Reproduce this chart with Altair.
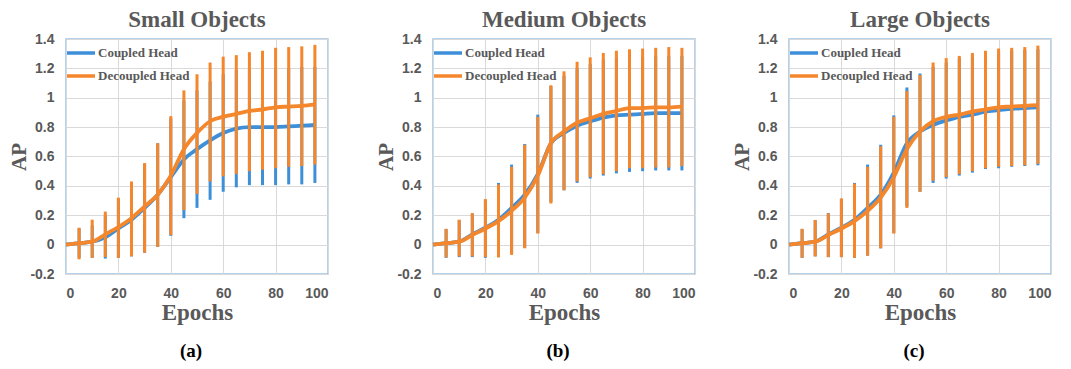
import altair as alt
import pandas as pd

epochs = [0, 5, 10, 15, 20, 25, 30, 35, 40, 45, 50, 55, 60, 65, 70, 75, 80, 85, 90, 95]
series_names = ["Coupled Head", "Decoupled Head"]
panel_titles = ["Small Objects", "Medium Objects", "Large Objects"]
panel_labels = ["(a)", "(b)", "(c)"]
x_ticks = [0, 20, 40, 60, 80, 100]
y_ticks = [-0.2, 0, 0.2, 0.4, 0.6, 0.8, 1, 1.2, 1.4]

# ---- Small objects ----
small_c = [0, 0.01, 0.02, 0.05, 0.11, 0.17, 0.25, 0.34, 0.46, 0.58, 0.65, 0.71, 0.76, 0.79, 0.80, 0.80, 0.80, 0.805, 0.81, 0.815]
small_c_lo = [None, -0.09, -0.09, -0.095, -0.09, -0.08, -0.055, -0.015, 0.06, 0.18, 0.25, 0.305, 0.36, 0.39, 0.405, 0.405, 0.405, 0.41, 0.41, 0.42]
small_c_hi = [None, 0.11, 0.13, 0.20, 0.31, 0.42, 0.55, 0.69, 0.86, 0.98, 1.05, 1.11, 1.16, 1.19, 1.195, 1.195, 1.195, 1.20, 1.21, 1.21]
small_d = [0, 0.01, 0.02, 0.07, 0.12, 0.18, 0.26, 0.34, 0.47, 0.65, 0.76, 0.84, 0.87, 0.89, 0.91, 0.92, 0.935, 0.94, 0.945, 0.955]
small_d_lo = [None, -0.10, -0.09, -0.085, -0.09, -0.08, -0.055, -0.015, 0.065, 0.235, 0.345, 0.43, 0.465, 0.48, 0.50, 0.51, 0.52, 0.53, 0.535, 0.545]
small_d_hi = [None, 0.115, 0.17, 0.225, 0.32, 0.43, 0.555, 0.69, 0.875, 1.05, 1.16, 1.24, 1.28, 1.29, 1.31, 1.32, 1.34, 1.345, 1.35, 1.36]

# ---- Medium objects ----
medium_c = [0, 0.01, 0.02, 0.07, 0.115, 0.17, 0.25, 0.34, 0.48, 0.69, 0.76, 0.81, 0.84, 0.865, 0.88, 0.885, 0.89, 0.895, 0.895, 0.895]
medium_c_lo = [None, -0.09, -0.085, -0.085, -0.09, -0.085, -0.06, -0.02, 0.08, 0.29, 0.37, 0.42, 0.45, 0.47, 0.485, 0.495, 0.50, 0.505, 0.505, 0.505]
medium_c_hi = [None, 0.105, 0.165, 0.21, 0.305, 0.42, 0.545, 0.685, 0.885, 1.08, 1.15, 1.20, 1.23, 1.26, 1.27, 1.275, 1.28, 1.285, 1.285, 1.285]
medium_d = [0, 0.01, 0.02, 0.065, 0.11, 0.16, 0.23, 0.32, 0.47, 0.69, 0.77, 0.83, 0.86, 0.89, 0.91, 0.93, 0.93, 0.935, 0.935, 0.94]
medium_d_lo = [None, -0.087, -0.08, -0.08, -0.085, -0.087, -0.07, -0.025, 0.075, 0.28, 0.37, 0.43, 0.46, 0.48, 0.50, 0.52, 0.52, 0.525, 0.525, 0.535]
medium_d_hi = [None, 0.108, 0.17, 0.215, 0.31, 0.41, 0.53, 0.68, 0.87, 1.085, 1.18, 1.245, 1.275, 1.305, 1.32, 1.33, 1.335, 1.34, 1.345, 1.34]

# ---- Large objects ----
large_c = [0, 0.01, 0.02, 0.07, 0.115, 0.17, 0.25, 0.34, 0.49, 0.69, 0.77, 0.815, 0.845, 0.87, 0.885, 0.905, 0.915, 0.925, 0.93, 0.935]
large_c_lo = [None, -0.09, -0.08, -0.085, -0.085, -0.09, -0.075, -0.025, 0.08, 0.26, 0.36, 0.42, 0.45, 0.47, 0.49, 0.515, 0.52, 0.53, 0.535, 0.54]
large_c_hi = [None, 0.105, 0.165, 0.215, 0.31, 0.42, 0.545, 0.68, 0.88, 1.07, 1.165, 1.21, 1.24, 1.27, 1.28, 1.295, 1.31, 1.32, 1.325, 1.33]
large_d = [0, 0.01, 0.02, 0.065, 0.11, 0.16, 0.23, 0.32, 0.46, 0.65, 0.77, 0.84, 0.87, 0.885, 0.905, 0.92, 0.935, 0.94, 0.945, 0.95]
large_d_lo = [None, -0.09, -0.08, -0.085, -0.085, -0.09, -0.075, -0.025, 0.075, 0.25, 0.36, 0.435, 0.46, 0.48, 0.50, 0.52, 0.53, 0.535, 0.54, 0.55]
large_d_hi = [None, 0.108, 0.168, 0.213, 0.315, 0.415, 0.53, 0.67, 0.87, 1.045, 1.155, 1.24, 1.27, 1.285, 1.305, 1.32, 1.335, 1.34, 1.345, 1.355]

BLUE = "#3D8FD9"
ORANGE = "#F4862C"
GRAY_TEXT = "#595959"
W, H = 262, 235


def make_df(c, c_lo, c_hi, d, d_lo, d_hi):
    rows = []
    for name, m, lo, hi in [(series_names[0], c, c_lo, c_hi), (series_names[1], d, d_lo, d_hi)]:
        for e, v, l, h in zip(epochs, m, lo, hi):
            rows.append({"epoch": e, "ap": v, "lo": l, "hi": h, "series": name})
    return pd.DataFrame(rows)


def panel(title, label, df):
    base = alt.Chart(df)
    xenc = alt.X("epoch:Q", scale=alt.Scale(domain=[0, 100], nice=False),
                 axis=alt.Axis(values=x_ticks, title="Epochs", grid=True, domain=False, ticks=False,
                               labelPadding=12, titlePadding=1))
    yscale = alt.Scale(domain=[-0.2, 1.4], nice=False)
    yaxis = alt.Axis(values=y_ticks, title="AP", grid=True, domain=False, ticks=False, format="~g",
                     labelExpr="replace(datum.label, '\u2212', '-')", labelPadding=12, titlePadding=0,
                     titleFontSize=21)
    color = alt.Color("series:N", scale=alt.Scale(domain=series_names, range=[BLUE, ORANGE]),
                      legend=alt.Legend(orient="none", legendX=-1, legendY=-2, title=None,
                                        symbolType="stroke", symbolSize=784, symbolStrokeWidth=3.5,
                                        labelFont="Liberation Serif", labelFontWeight="bold",
                                        labelFontSize=13, labelColor=GRAY_TEXT, rowPadding=-1,
                                        labelOffset=1, padding=0))
    layers = []
    for name in series_names:
        sub = base.transform_filter(alt.datum.series == name)
        bars = sub.transform_filter("isValid(datum.lo)").mark_rule(strokeWidth=3).encode(
            x=xenc, y=alt.Y("lo:Q", scale=yscale, axis=yaxis), y2="hi:Q", color=color)
        line = sub.mark_line(strokeWidth=3.8, interpolate="monotone").encode(
            x=xenc, y=alt.Y("ap:Q", scale=yscale, axis=yaxis), color=color)
        layers += [bars, line]
    lab = alt.Chart(pd.DataFrame({"t": [label]})).mark_text(
        font="Liberation Serif", fontWeight="bold", fontSize=19, color="black").encode(
        x=alt.value(W / 2 - 6), y=alt.value(H + 77), text="t:N")
    layers.append(lab)
    return alt.layer(*layers).properties(
        width=W, height=H,
        title=alt.TitleParams(title, font="Liberation Serif", fontWeight="bold", fontSize=23,
                              color=GRAY_TEXT, offset=0, anchor="middle"))


pa = panel(panel_titles[0], panel_labels[0], make_df(small_c, small_c_lo, small_c_hi, small_d, small_d_lo, small_d_hi))
pb = panel(panel_titles[1], panel_labels[1], make_df(medium_c, medium_c_lo, medium_c_hi, medium_d, medium_d_lo, medium_d_hi))
pc = panel(panel_titles[2], panel_labels[2], make_df(large_c, large_c_lo, large_c_hi, large_d, large_d_lo, large_d_hi))

inner = alt.hconcat(pa, pb, spacing=46).resolve_scale(color="independent").resolve_legend(color="independent")
chart = alt.hconcat(inner, pc, spacing=35).resolve_scale(color="independent").resolve_legend(color="independent")

chart = chart.properties(padding={"left": 0, "top": 0, "right": 0, "bottom": 0}).configure_view(
    stroke="#9DC3E6", strokeWidth=1.5).configure_axis(
    gridColor="#D9D9D9", gridWidth=1,
    labelFont="Liberation Sans", labelFontWeight="bold", labelFontSize=14, labelColor=GRAY_TEXT,
    titleFont="Liberation Serif", titleFontWeight="bold", titleFontSize=23, titleColor=GRAY_TEXT)

chart.save("out.html", embed_options={"renderer": "svg", "actions": False})
